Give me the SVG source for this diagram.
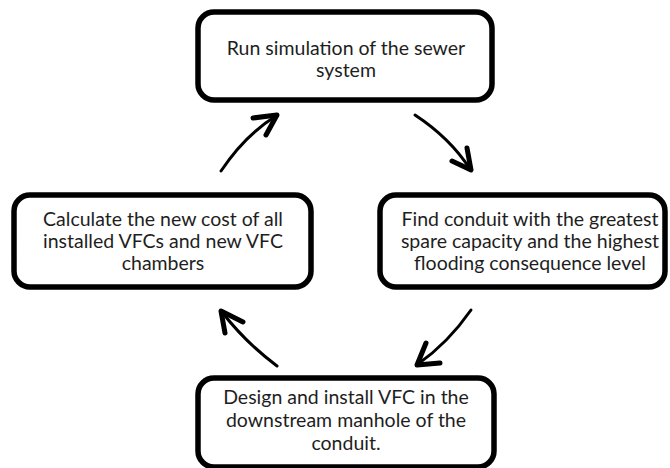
<svg xmlns="http://www.w3.org/2000/svg" width="670" height="468" viewBox="0 0 670 468">
<style>
.box{fill:#fff;stroke:#000;stroke-width:5.5}
.t{font-family:Lato,"Open Sans","Liberation Sans",sans-serif;font-size:19.5px;fill:#1e1e1e;text-anchor:middle}
.c{fill:none;stroke:#000;stroke-width:3;stroke-linecap:round}
.h{fill:none;stroke:#000;stroke-width:5;stroke-linecap:round;stroke-linejoin:round}
</style>
<rect width="670" height="468" fill="#fff"/>
<g id="connectors">
<path class="c" d="M221,171 Q245,135 276,116"/>
<path class="h" d="M253,118 L277,115 L266,135"/>
<path class="c" d="M415,115 Q450,138 470,169"/>
<path class="h" d="M452,161 L471,170 L467,148"/>
<path class="c" d="M277,366 Q245,342 222,312"/>
<path class="h" d="M243,322 L221,311 L225,333"/>
<path class="c" d="M471,310 Q448,343 418,364"/>
<path class="h" d="M440,363 L417,365 L426,343"/>
</g>
<g id="n1">
<rect class="box" x="198" y="12" width="294" height="88" rx="16"/>
<text class="t" x="346" y="55">Run simulation of the sewer</text>
<text class="t" x="346" y="77">system</text>
</g>
<g id="n2">
<rect class="box" x="380" y="195" width="285" height="92" rx="16"/>
<text class="t" x="530" y="226">Find conduit with the greatest</text>
<text class="t" x="530" y="248">spare capacity and the highest</text>
<text class="t" x="530" y="270">flooding consequence level</text>
</g>
<g id="n3">
<rect class="box" x="198" y="378" width="296" height="89" rx="16"/>
<text class="t" x="346" y="404">Design and install VFC in the</text>
<text class="t" x="346" y="427">downstream manhole of the</text>
<text class="t" x="346" y="450">conduit.</text>
</g>
<g id="n4">
<rect class="box" x="14" y="195" width="297" height="92" rx="16"/>
<text class="t" x="163" y="226">Calculate the new cost of all</text>
<text class="t" x="163" y="248">installed VFCs and new VFC</text>
<text class="t" x="163" y="270">chambers</text>
</g>
</svg>
